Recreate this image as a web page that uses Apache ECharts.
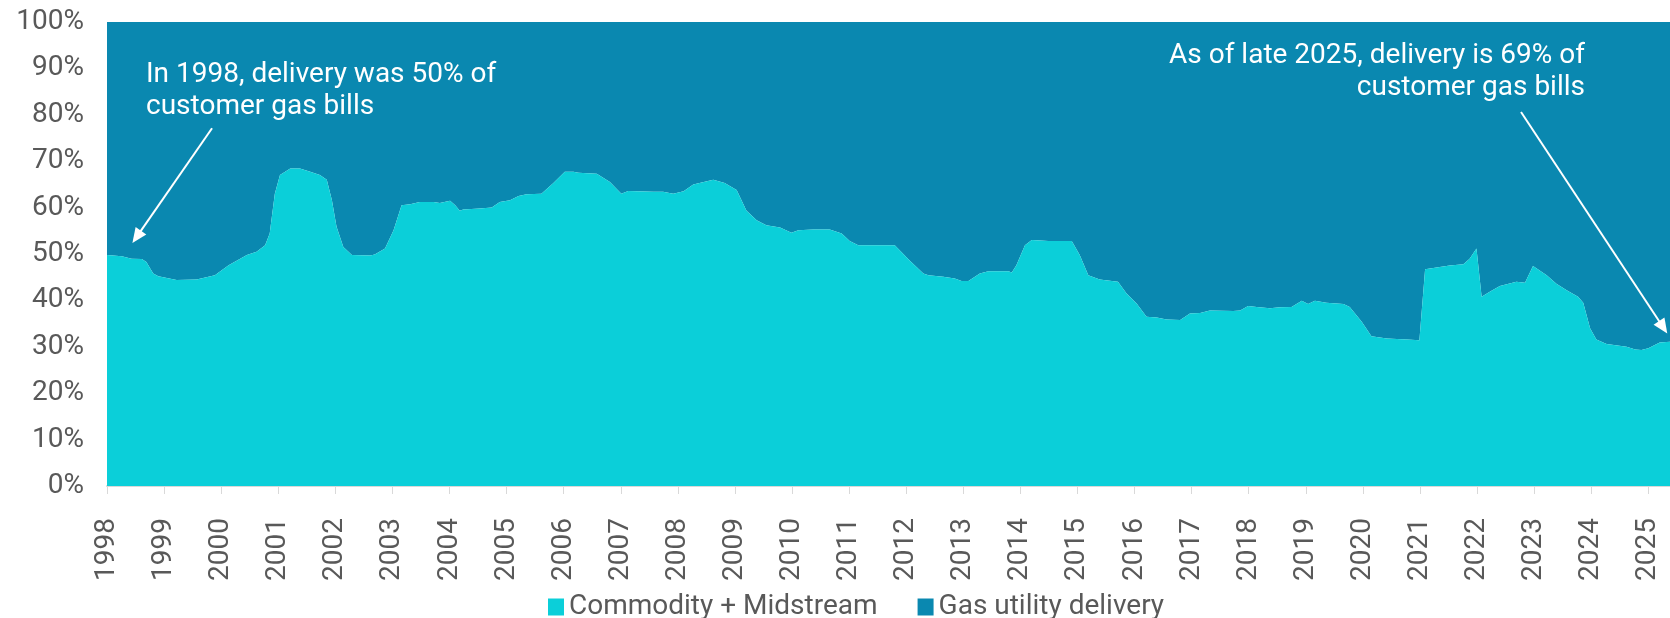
<!DOCTYPE html>
<html>
<head>
<meta charset="utf-8">
<script src="https://cdn.jsdelivr.net/npm/echarts@6/dist/echarts.min.js"></script>
<style>
html,body{margin:0;padding:0;background:#fff;}
#chart{width:1670px;height:618px;}
</style>
</head>
<body>
<div id="chart"></div>
<script>
// Decimal-year positions of the curve's vertices
const years = [
  1998.00, 1998.26, 1998.43, 1998.61, 1998.69, 1998.81, 1998.90, 1999.22, 1999.57, 1999.89,
  2000.13, 2000.45, 2000.62, 2000.77, 2000.85, 2000.94, 2001.03, 2001.21, 2001.38, 2001.56,
  2001.73, 2001.85, 2001.94, 2002.02, 2002.14, 2002.29, 2002.61, 2002.69, 2002.87, 2003.02,
  2003.16, 2003.31, 2003.48, 2003.72, 2003.83, 2004.01, 2004.10, 2004.18, 2004.24, 2004.53,
  2004.74, 2004.88, 2005.06, 2005.21, 2005.35, 2005.61, 2005.82, 2006.02, 2006.17, 2006.26,
  2006.58, 2006.81, 2007.01, 2007.13, 2007.57, 2007.74, 2007.92, 2008.10, 2008.27, 2008.62,
  2008.82, 2009.03, 2009.20, 2009.38, 2009.55, 2009.79, 2009.99, 2010.11, 2010.37, 2010.66,
  2010.87, 2011.01, 2011.16, 2011.80, 2012.07, 2012.30, 2012.39, 2012.65, 2012.85, 2012.97,
  2013.09, 2013.29, 2013.44, 2013.79, 2013.85, 2013.93, 2014.08, 2014.20, 2014.49, 2014.90,
  2015.04, 2015.19, 2015.39, 2015.71, 2015.86, 2016.04, 2016.21, 2016.39, 2016.56, 2016.80,
  2016.97, 2017.15, 2017.32, 2017.73, 2017.85, 2017.99, 2018.14, 2018.37, 2018.55, 2018.75,
  2018.93, 2019.04, 2019.16, 2019.36, 2019.66, 2019.77, 2019.98, 2020.15, 2020.42, 2020.77,
  2020.99, 2021.09, 2021.29, 2021.52, 2021.76, 2021.87, 2021.99, 2022.08, 2022.23, 2022.40,
  2022.69, 2022.84, 2022.98, 2023.22, 2023.39, 2023.57, 2023.77, 2023.86, 2023.98, 2024.09,
  2024.27, 2024.62, 2024.77, 2024.88, 2025.00, 2025.20, 2025.38
];

// Share of customer gas bill (%)
const commodity = [
  49.8, 49.5, 49.0, 48.9, 48.3, 45.8, 45.2, 44.4, 44.5, 45.4,
  47.6, 49.8, 50.5, 51.9, 54.4, 63.0, 67.0, 68.4, 68.4, 67.7,
  67.0, 66.0, 61.6, 55.9, 51.5, 49.8, 49.7, 49.9, 51.2, 55.1,
  60.5, 60.7, 61.2, 61.2, 61.0, 61.5, 60.5, 59.3, 59.6, 59.8,
  60.0, 61.2, 61.6, 62.5, 62.9, 63.0, 65.3, 67.7, 67.7, 67.5,
  67.3, 65.5, 63.0, 63.6, 63.4, 63.4, 63.0, 63.5, 65.0, 66.0,
  65.3, 63.8, 59.4, 57.3, 56.2, 55.7, 54.6, 55.1, 55.3, 55.3,
  54.4, 52.8, 51.9, 51.9, 48.5, 45.8, 45.4, 45.1, 44.7, 44.2,
  44.2, 45.8, 46.3, 46.3, 46.0, 47.6, 51.9, 53.0, 52.8, 52.8,
  49.8, 45.4, 44.5, 44.0, 41.5, 39.3, 36.5, 36.3, 35.9, 35.8,
  37.2, 37.3, 37.8, 37.7, 37.8, 38.8, 38.6, 38.3, 38.5, 38.6,
  39.9, 39.2, 39.9, 39.5, 39.2, 38.6, 35.4, 32.3, 31.8, 31.6,
  31.4, 46.7, 47.1, 47.5, 47.8, 49.0, 51.2, 40.8, 41.9, 43.1,
  44.0, 43.8, 47.4, 45.4, 43.6, 42.2, 40.8, 39.5, 34.0, 31.6,
  30.6, 30.0, 29.4, 29.3, 29.7, 30.9, 31.1
];

const delivery = [
  50.2, 50.5, 51.0, 51.1, 51.7, 54.2, 54.8, 55.6, 55.5, 54.6,
  52.4, 50.2, 49.5, 48.1, 45.6, 37.0, 33.0, 31.6, 31.6, 32.3,
  33.0, 34.0, 38.4, 44.1, 48.5, 50.2, 50.3, 50.1, 48.8, 44.9,
  39.5, 39.3, 38.8, 38.8, 39.0, 38.5, 39.5, 40.7, 40.4, 40.2,
  40.0, 38.8, 38.4, 37.5, 37.1, 37.0, 34.7, 32.3, 32.3, 32.5,
  32.7, 34.5, 37.0, 36.4, 36.6, 36.6, 37.0, 36.5, 35.0, 34.0,
  34.7, 36.2, 40.6, 42.7, 43.8, 44.3, 45.4, 44.9, 44.7, 44.7,
  45.6, 47.2, 48.1, 48.1, 51.5, 54.2, 54.6, 54.9, 55.3, 55.8,
  55.8, 54.2, 53.7, 53.7, 54.0, 52.4, 48.1, 47.0, 47.2, 47.2,
  50.2, 54.6, 55.5, 56.0, 58.5, 60.7, 63.5, 63.7, 64.1, 64.2,
  62.8, 62.7, 62.2, 62.3, 62.2, 61.2, 61.4, 61.7, 61.5, 61.4,
  60.1, 60.8, 60.1, 60.5, 60.8, 61.4, 64.6, 67.7, 68.2, 68.4,
  68.6, 53.3, 52.9, 52.5, 52.2, 51.0, 48.8, 59.2, 58.1, 56.9,
  56.0, 56.2, 52.6, 54.6, 56.4, 57.8, 59.2, 60.5, 66.0, 68.4,
  69.4, 70.0, 70.6, 70.7, 70.3, 69.1, 68.9
];

const seriesNames = ['Commodity + Midstream', 'Gas utility delivery'];
const annotationLeft = 'In 1998, delivery was 50% of\ncustomer gas bills';
const annotationRight = 'As of late 2025, delivery is 69% of\ncustomer gas bills';
// arrow endpoints in data space [year, %]
const arrowLeft = [[1999.84, 77.1], [1998.52, 53.7]];
const arrowRight = [[2022.77, 80.6], [2025.26, 34.2]];

const colors = ['#0BCFD9', '#0A88B0'];
const textGray = '#595959';
const FONT = 'Roboto, "Noto Sans", sans-serif';

const chart = echarts.init(document.getElementById('chart'), null, {renderer: 'canvas'});

const arrowLine = {
  silent: true,
  symbol: ['none', 'triangle'],
  symbolSize: [13, 15],
  label: {show: false},
  lineStyle: {color: '#ffffff', width: 2, type: 'solid'},
  emphasis: {disabled: true},
  animation: false,
  data: [
    [{coord: arrowLeft[0]}, {coord: arrowLeft[1]}],
    [{coord: arrowRight[0]}, {coord: arrowRight[1]}]
  ]
};

// data items are [share, year] so the share (y) is the stacked dimension
chart.setOption({
  animation: false,
  color: colors,
  grid: {left: 107, right: 0, top: 22, bottom: 132, containLabel: false},
  legend: {
    data: seriesNames,
    top: 588,
    left: 543,
    itemWidth: 16,
    itemHeight: 17,
    itemGap: 40,
    icon: 'rect',
    textStyle: {color: textGray, fontSize: 28, fontFamily: FONT}
  },
  xAxis: {
    type: 'value',
    min: 1998,
    max: 2025.38,
    interval: 1,
    axisLine: {show: true, lineStyle: {color: '#D9D9D9', width: 2}},
    axisTick: {show: true, length: 8, lineStyle: {color: '#D9D9D9', width: 1}},
    splitLine: {show: false},
    axisLabel: {
      rotate: 90,
      margin: 32,
      color: textGray,
      fontSize: 28,
      fontFamily: FONT,
      showMaxLabel: false,
      formatter: v => (Math.abs(v - Math.round(v)) < 1e-6 ? String(Math.round(v)) : '')
    }
  },
  yAxis: {
    type: 'value',
    min: 0,
    max: 100,
    interval: 10,
    axisLine: {show: false},
    axisTick: {show: false},
    splitLine: {show: false},
    axisLabel: {
      margin: 23,
      color: textGray,
      fontSize: 28,
      fontFamily: FONT,
      formatter: '{value}%'
    }
  },
  series: [
    {
      name: seriesNames[0],
      type: 'line',
      stack: 'total',
      encode: {x: 1, y: 0},
      data: years.map((y, i) => [commodity[i], y]),
      showSymbol: false,
      symbol: 'none',
      lineStyle: {width: 0},
      areaStyle: {color: colors[0], opacity: 1},
      itemStyle: {color: colors[0]},
      markLine: arrowLine,
      z: 2
    },
    {
      name: seriesNames[1],
      type: 'line',
      stack: 'total',
      encode: {x: 1, y: 0},
      data: years.map((y, i) => [delivery[i], y]),
      showSymbol: false,
      symbol: 'none',
      lineStyle: {width: 0},
      areaStyle: {color: colors[1], opacity: 1},
      itemStyle: {color: colors[1]},
      z: 1
    }
  ],
  graphic: [
    {
      type: 'text',
      x: 146, y: 59,
      z: 100,
      style: {
        text: annotationLeft,
        fill: '#ffffff',
        font: '28px ' + FONT,
        lineHeight: 32,
        align: 'left',
        verticalAlign: 'top'
      }
    },
    {
      type: 'text',
      x: 1585, y: 40,
      z: 100,
      style: {
        text: annotationRight,
        fill: '#ffffff',
        font: '28px ' + FONT,
        lineHeight: 32,
        align: 'right',
        verticalAlign: 'top'
      }
    }
  ]
});
</script>
</body>
</html>
